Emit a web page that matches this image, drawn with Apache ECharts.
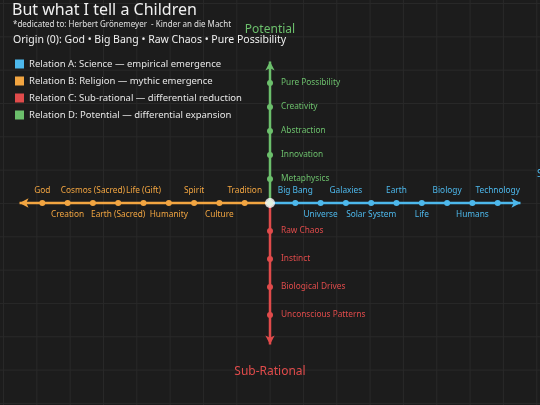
<!DOCTYPE html>
<html>
<head>
<meta charset="utf-8">
<script src="https://cdn.jsdelivr.net/npm/echarts@6/dist/echarts.min.js"></script>
<style>
  html, body { margin: 0; padding: 0; }
  #chart {
    width: 540px; height: 405px;
    background-color: #1c1c1c;
    background-image:
      linear-gradient(#282828 1px, transparent 1px),
      linear-gradient(90deg, #282828 1px, transparent 1px);
    background-size: 33.33px 33.33px;
    background-position: 3px 3px;
  }
</style>
</head>
<body>
<div id="chart"></div>
<script>
// Relation A: science, to the right
const scienceLabels = ['Big Bang', 'Universe', 'Galaxies', 'Solar System', 'Earth', 'Life', 'Biology', 'Humans', 'Technology'];
const scienceX = [1, 2, 3, 4, 5, 6, 7, 8, 9];
// Relation B: religion, to the left
const religionLabels = ['Tradition', 'Culture', 'Spirit', 'Humanity', 'Life (Gift)', 'Earth (Sacred)', 'Cosmos (Sacred)', 'Creation', 'God'];
const religionX = [-1, -2, -3, -4, -5, -6, -7, -8, -9];
// Relation C: sub-rational, downward
const subLabels = ['Raw Chaos', 'Instinct', 'Biological Drives', 'Unconscious Patterns'];
const subY = [-1.17, -2.33, -3.5, -4.67];
// Relation D: potential, upward
const potLabels = ['Metaphysics', 'Innovation', 'Abstraction', 'Creativity', 'Pure Possibility'];
const potY = [1, 2, 3, 4, 5];

const BLUE = '#4db8ec', ORANGE = '#f2a541', RED = '#e04b4b', GREEN = '#6cbf6c';
const FONT = '"Noto Sans", "Open Sans", sans-serif';

// build one arm of the cross
function arm(name, color, labels, coords, horizontal, end, arrowRot, labelPos) {
  const data = [[0, 0]];
  labels.forEach((lab, i) => {
    const pos = labelPos(i);
    data.push({
      value: horizontal ? [coords[i], 0] : [0, coords[i]],
      label: { show: true, formatter: lab, position: pos, distance: pos === 'right' ? 8 : 5 }
    });
  });
  data.push({ value: horizontal ? [end, 0] : [0, end], symbol: 'arrow', symbolSize: [7, 9], symbolRotate: arrowRot });
  return {
    name: name, type: 'line', data: data,
    symbol: 'circle', symbolSize: 6,
    itemStyle: { color: color },
    lineStyle: { color: color, width: 2.5 },
    label: { color: color, fontSize: 8.3, fontFamily: FONT },
    z: 3
  };
}

const chart = echarts.init(document.getElementById('chart'));
chart.setOption({
  animation: false,
  grid: { left: 17, top: 59, width: 506, height: 288 },
  xAxis: { type: 'value', min: -10, max: 10, show: false },
  yAxis: { type: 'value', min: -6, max: 6, show: false },
  legend: {
    orient: 'vertical', left: 10, top: 54, icon: 'rect',
    itemWidth: 9, itemHeight: 9, itemGap: 7,
    textStyle: { color: '#e6e6e6', fontSize: 9.5, fontFamily: FONT },
    selectedMode: false
  },
  series: [
    arm('Relation A: Science — empirical emergence', BLUE, scienceLabels, scienceX, true, 9.9, -90, i => i % 2 ? 'bottom' : 'top'),
    arm('Relation B: Religion — mythic emergence', ORANGE, religionLabels, religionX, true, -9.9, 90, i => i % 2 ? 'bottom' : 'top'),
    arm('Relation C: Sub-rational — differential reduction', RED, subLabels, subY, false, -5.9, 180, () => 'right'),
    arm('Relation D: Potential — differential expansion', GREEN, potLabels, potY, false, 5.9, 0, () => 'right'),
    {
      type: 'scatter', data: [[0, 0]], symbolSize: 10, z: 5,
      itemStyle: { color: '#ffffff' }
    }
  ],
  graphic: [
    { type: 'text', left: 12, top: 2, style: { text: 'But what I tell a Children', fill: '#f0f0f0', font: '16px ' + FONT } },
    { type: 'text', left: 13, top: 21, style: { text: '*dedicated to: Herbert Grönemeyer  - Kinder an die Macht', fill: '#e0e0e0', font: '8px ' + FONT } },
    { type: 'text', left: 13, top: 35, style: { text: 'Origin (0): God • Big Bang • Raw Chaos • Pure Possibility', fill: '#f0f0f0', font: '10.5px ' + FONT } },
    { type: 'text', x: 270, y: 24, style: { text: 'Potential', fill: GREEN, font: '12px ' + FONT, align: 'center' } },
    { type: 'text', x: 270, y: 366, style: { text: 'Sub-Rational', fill: RED, font: '12px ' + FONT, align: 'center' } },
    { type: 'text', x: 537, y: 169, style: { text: 'Science', fill: BLUE, font: '10px ' + FONT } }
  ]
});
</script>
</body>
</html>
